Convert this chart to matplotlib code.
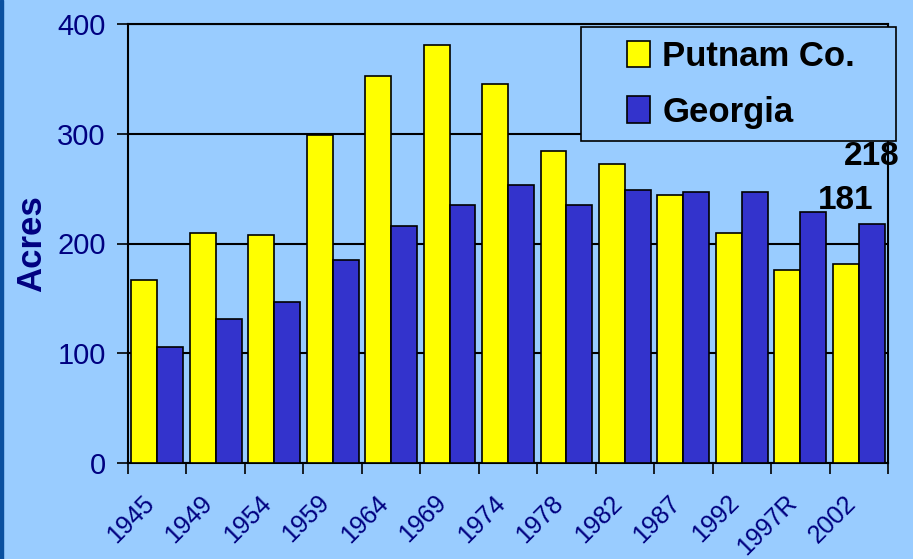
import matplotlib.pyplot as plt
import numpy as np
from matplotlib.patches import Rectangle

# Data
years = ['1945', '1949', '1954', '1959', '1964', '1969', '1974',
         '1978', '1982', '1987', '1992', '1997R', '2002']
putnam = [167, 210, 208, 299, 353, 381, 345, 284, 272, 244, 210, 176, 181]
georgia = [106, 131, 147, 185, 216, 235, 253, 235, 249, 247, 247, 229, 218]

bg = '#99CCFF'
navy = '#000080'
plt.rcParams['font.family'] = ['Liberation Sans', 'DejaVu Sans']

fig = plt.figure(figsize=(9.13, 5.59), dpi=100, facecolor=bg)
ax = fig.add_axes([128 / 913, 1 - 463 / 559, 760 / 913, 439 / 559])
ax.set_facecolor(bg)

# dark stripe on the left edge
fig.patches.append(Rectangle((0, 0), 3 / 913, 1, transform=fig.transFigure,
                             color='#0A50A0', zorder=10))

x = np.arange(len(years))
w = 0.444
ax.bar(x - w / 2, putnam, w, color='#FFFF00', edgecolor='black',
       linewidth=1.2, zorder=3, label='Putnam Co.')
ax.bar(x + w / 2, georgia, w, color='#3333CC', edgecolor='black',
       linewidth=1.2, zorder=3, label='Georgia')

ax.set_xlim(-0.5, len(years) - 0.5)
ax.set_ylim(0, 400)
ax.set_yticks([0, 100, 200, 300, 400])
ax.yaxis.grid(True, color='black', linewidth=1.5, zorder=0)
ax.set_axisbelow(True)

# labels sit a little left of the group centre, ticks on the group edges
ax.set_xticks(x - 0.26)
ax.set_xticklabels(years, rotation=45, ha='right', va='top',
                   rotation_mode='anchor', fontsize=18, color=navy)
ax.tick_params(axis='x', which='major', length=0, pad=20)
ax.set_xticks(np.arange(-0.5, len(years)), minor=True)
ax.tick_params(axis='x', which='minor', length=8, width=1.2, direction='out')
ax.tick_params(axis='y', length=8, width=1.2, pad=8, labelsize=21,
               labelcolor=navy)

for s in ax.spines.values():
    s.set_linewidth(1.5)

ax.set_ylabel('Acres', fontsize=25, fontweight='bold', color=navy)
ax.yaxis.set_label_coords(-0.105, 0.5)

# value labels for 2002
ax.annotate(str(putnam[-1]), (x[-1] - w / 2, putnam[-1]), xytext=(0, 35),
            textcoords='offset points', ha='center', va='bottom',
            fontsize=24, fontweight='bold', annotation_clip=False, zorder=5)
ax.annotate(str(georgia[-1]), (x[-1] + w / 2, georgia[-1]), xytext=(0, 37),
            textcoords='offset points', ha='center', va='bottom',
            fontsize=24, fontweight='bold', annotation_clip=False, zorder=5)

# legend box
box = Rectangle((581 / 913, 1 - 141 / 559), 315 / 913, 114 / 559,
                transform=fig.transFigure, facecolor=bg, edgecolor='black',
                linewidth=1.2, zorder=6)
fig.patches.append(box)
leg = fig.legend(*ax.get_legend_handles_labels(), loc='center',
                 bbox_to_anchor=(741 / 913, 1 - 84.5 / 559),
                 bbox_transform=fig.transFigure,
                 prop={'weight': 'bold', 'size': 25}, frameon=False,
                 handlelength=0.66, handleheight=0.8, handletextpad=0.35,
                 labelspacing=0.65, borderpad=0, borderaxespad=0)
leg.set_zorder(7)

fig.savefig('out.png', dpi=100, facecolor=bg)
